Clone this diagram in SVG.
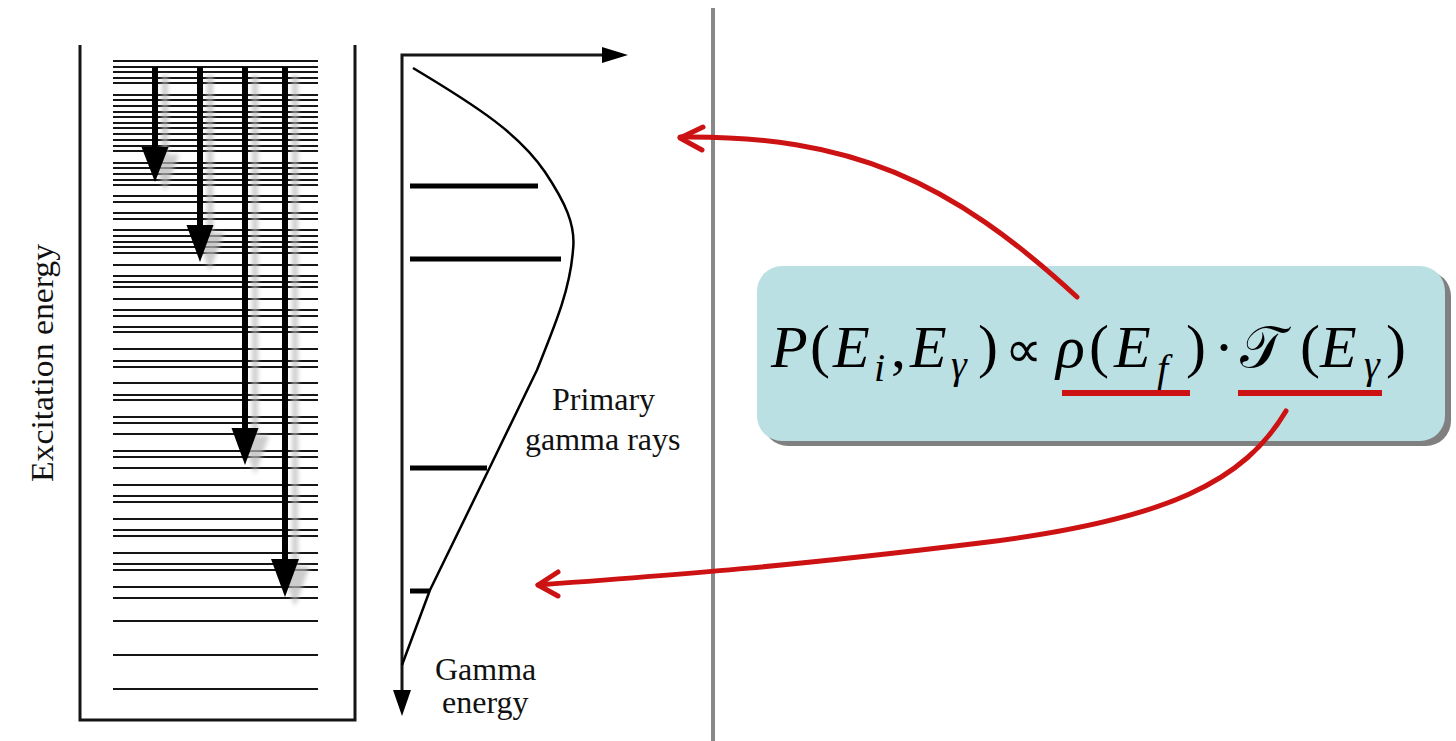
<svg xmlns="http://www.w3.org/2000/svg" width="1456" height="741" viewBox="0 0 1456 741">
<style>
.lvl{stroke:#151515;stroke-width:2}
.frame{stroke:#151515;stroke-width:3;fill:none}
.bar{stroke:#000;stroke-width:5}
.lbl{font-family:"Liberation Serif","Times New Roman",serif;font-size:32px;fill:#111}
.m{font-family:"Liberation Serif","Times New Roman",serif;font-size:60px;fill:#000}
.mi{font-style:italic}
.sub{font-size:40px}
.red{stroke:#cc1212;fill:none;stroke-width:5;stroke-linecap:round;stroke-linejoin:round}
</style>
<defs>
<filter id="blur" x="-50%" y="-10%" width="200%" height="120%"><feGaussianBlur stdDeviation="2"/></filter>
</defs>
<rect width="1456" height="741" fill="#fff"/>
<g id="level-scheme">
<path class="frame" d="M80,45 V720 H355 V45"/>
<g id="levels">
<path class="lvl" d="M113,61H318M113,67H318M113,72H318M113,78H318M113,83H318M113,95H318M113,100H318M113,106H318M113,112H318M113,117H318M113,123H318M113,128H318M113,134H318M113,140H318M113,146H318M113,151H318M113,163H318M113,168H318M113,174H318M113,180H318M113,185H318M113,196H318M113,202H318M113,213H318M113,219H318M113,230H318M113,236H318M113,242H318M113,247H318M113,253H318M113,265H318M113,276H318M113,282H318M113,287H318M113,299H318M113,310H318M113,316H318M113,327H318M113,332H318M113,349H318M113,361H318M113,367H318M113,383H318M113,395H318M113,400H318M113,417H318M113,423H318M113,434H318M113,451H318M113,457H318M113,468H318M113,485H318M113,496H318M113,502H318M113,519H318M113,530H318M113,536H318M113,553H318M113,564H318M113,570H318M113,587H318M113,598H318M113,621H318M113,655H318M113,689H318"/>
</g>
<g id="transition-shadows" fill="#b8b8b8" stroke="#b8b8b8" filter="url(#blur)" opacity="0.7">
<path d="M165,75V155M210,75V235M255,75V440M295,75V570" stroke-width="6" fill="none"/>
<polygon points="151.5,155 178.5,155 165,190"/>
<polygon points="196.5,233 223.5,233 210,270"/>
<polygon points="241.5,436 268.5,436 255,473"/>
<polygon points="281,567 309,567 295,605"/>
</g>
<g id="transitions" fill="#000" stroke="#000">
<path d="M155,67V150M200,67V228M245,67V431M285,67V562" stroke-width="6" fill="none"/>
<polygon points="141.5,147 168.5,147 155,182" stroke="none"/>
<polygon points="186.5,225 213.5,225 200,262" stroke="none"/>
<polygon points="231.5,428 258.5,428 245,465" stroke="none"/>
<polygon points="271,559 299,559 285,597" stroke="none"/>
</g>
<text class="lbl" x="53" y="363" text-anchor="middle" transform="rotate(-90 53 363)" textLength="238" lengthAdjust="spacingAndGlyphs">Excitation energy</text>
</g>
<g id="gamma-spectrum">
<path class="frame" d="M402,695 V55 H605"/>
<polygon points="602,47 602,63 628,55" fill="#000"/>
<polygon points="393,690 411,690 402,716" fill="#000"/>
<path d="M413,68 C480,108 520,135 545,172 C565,202 576,225 573,250 C570,290 555,325 537,370 L490,467 L430,590 L402,665" fill="none" stroke="#000" stroke-width="2.5" stroke-linejoin="round"/>
<path class="bar" d="M410,186H538M410,259H561M410,468H487M410,591H430"/>
<text class="lbl" x="552" y="410">Primary</text>
<text class="lbl" x="525" y="450">gamma rays</text>
<text class="lbl" x="435" y="680">Gamma</text>
<text class="lbl" x="442" y="713">energy</text>
</g>
<g id="divider">
<line x1="713" y1="8" x2="713" y2="741" stroke="#888" stroke-width="4"/>
</g>
<g id="formula">
<rect x="763" y="271" width="688" height="175" rx="25" fill="#808080"/>
<rect x="757" y="266" width="688" height="175" rx="25" fill="#bbe0e3"/>
<text class="m mi" x="771" y="367">P</text>
<text class="m" x="810" y="366">(</text>
<text class="m mi" x="833" y="367">E</text>
<text class="m mi sub" x="874" y="381">i</text>
<text class="m" x="891" y="367">,</text>
<text class="m mi" x="910" y="367">E</text>
<text class="m mi sub" x="951" y="378">γ</text>
<text class="m" x="978" y="366">)</text>
<text class="m" x="1005" y="367" style="font-size:52px">∝</text>
<text class="m mi" x="1056" y="367">ρ</text>
<text class="m" x="1089" y="366">(</text>
<text class="m mi" x="1114" y="367">E</text>
<text class="m mi sub" x="1157" y="382">f</text>
<text class="m" x="1186" y="366">)</text>
<text class="m" x="1214" y="367">·</text>
<text class="m" x="1240" y="367" style="font-family:'DejaVu Serif','DejaVu Sans',serif;font-size:58px">𝒯</text>
<text class="m" x="1300" y="366">(</text>
<text class="m mi" x="1320" y="367">E</text>
<text class="m mi sub" x="1364" y="378">γ</text>
<text class="m" x="1386" y="366">)</text>
<path d="M1062,393H1190M1238,393H1382" stroke="#cc1212" stroke-width="6"/>
</g>
<g id="connectors">
<path class="red" d="M1077,297 C950,180 850,135 680,137"/>
<path class="red" d="M703,127 L680,138 L702,150"/>
<path class="red" d="M1286,411 C1245,480 1170,520 980,543 S700,573 538,585"/>
<path class="red" d="M558,572 L538,585 L558,596"/>
</g>
</svg>
